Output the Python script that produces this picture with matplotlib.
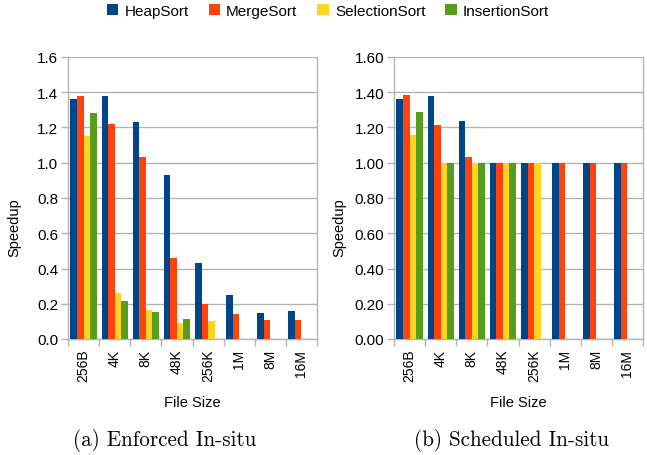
import matplotlib
matplotlib.use("Agg")
import matplotlib.pyplot as plt
import numpy as np
from matplotlib.ticker import FormatStrFormatter, FixedLocator

categories = ["256B", "4K", "8K", "48K", "256K", "1M", "8M", "16M"]
series_names = ["HeapSort", "MergeSort", "SelectionSort", "InsertionSort"]
colors = ["#004586", "#ff420e", "#ffd320", "#579d1c"]

enforced_heap = [1.36, 1.38, 1.23, 0.93, 0.43, 0.25, 0.15, 0.16]
enforced_merge = [1.38, 1.22, 1.03, 0.46, 0.20, 0.14, 0.11, 0.11]
enforced_selection = [1.15, 0.26, 0.165, 0.09, 0.10, 0, 0, 0]
enforced_insertion = [1.285, 0.215, 0.155, 0.115, 0, 0, 0, 0]

scheduled_heap = [1.36, 1.38, 1.235, 1.0, 1.0, 1.0, 1.0, 1.0]
scheduled_merge = [1.385, 1.215, 1.03, 1.0, 1.0, 1.0, 1.0, 1.0]
scheduled_selection = [1.155, 1.0, 1.0, 1.0, 1.0, 0, 0, 0]
scheduled_insertion = [1.29, 1.0, 1.0, 1.0, 0, 0, 0, 0]

enforced = [enforced_heap, enforced_merge, enforced_selection, enforced_insertion]
scheduled = [scheduled_heap, scheduled_merge, scheduled_selection, scheduled_insertion]

W, H = 647, 456
fig = plt.figure(figsize=(W / 100, H / 100), dpi=100)
plt.rcParams['font.family'] = ['Liberation Sans', 'DejaVu Sans']

grid_c = "#b3b3b3"

def panel(rect, data, fmt, caption, ylabel_x, caption_x):
    ax = fig.add_axes(rect)
    x = np.arange(len(categories))
    bw = 0.21
    for i, (vals, c) in enumerate(zip(data, colors)):
        v = np.array(vals, dtype=float)
        v[v == 0] = np.nan
        ax.bar(x + (i - 1.5) * bw, v, width=bw, color=c, linewidth=0, zorder=3,
               label=series_names[i])
    ax.set_xlim(-0.5, len(categories) - 0.5)
    ax.set_ylim(0, 1.6)
    ax.set_yticks(np.arange(0, 1.61, 0.2))
    ax.yaxis.set_major_formatter(FormatStrFormatter(fmt))
    ax.grid(axis='y', color=grid_c, linewidth=1, zorder=0)
    ax.set_xticks(x)
    ax.set_xticklabels(categories, rotation=90, fontsize=10)
    ax.tick_params(axis='x', which='major', length=0, pad=7)
    ax.xaxis.set_minor_locator(FixedLocator(np.arange(-0.5, len(categories), 1.0)))
    ax.tick_params(axis='x', which='minor', length=5, color=grid_c, width=1)
    ax.tick_params(axis='y', length=5, color=grid_c, width=1, labelsize=11, pad=2)
    for s in ['left', 'right', 'bottom']:
        ax.spines[s].set_color(grid_c)
        ax.spines[s].set_linewidth(1)
    ax.spines['top'].set_visible(False)
    ax.set_xlabel("File Size", fontsize=10.5, labelpad=10)
    ax.set_ylabel("Speedup", fontsize=10.5)
    ax.yaxis.set_label_coords(ylabel_x, 0.5, transform=fig.transFigure)
    fig.text(caption_x, 1 - 441 / H, caption, ha='center', va='center',
             fontsize=15.2, family='cmr10')
    return ax

ax1 = panel([68 / W, 1 - 340 / H, 249 / W, 282 / H], enforced, "%.1f",
            "(a) Enforced In-situ", 21 / W, 165 / W)
ax2 = panel([394 / W, 1 - 340 / H, 249 / W, 282 / H], scheduled, "%.2f",
            "(b) Scheduled In-situ", 346 / W, 511 / W)

handles, labels = ax1.get_legend_handles_labels()
fig.legend(handles, labels, loc='center', bbox_to_anchor=(328 / W, 1 - 12 / H),
           ncol=4, frameon=False, fontsize=11, handlelength=0.75, handleheight=0.75,
           handletextpad=0.4, columnspacing=1.3)

fig.savefig("out.png", dpi=100)
